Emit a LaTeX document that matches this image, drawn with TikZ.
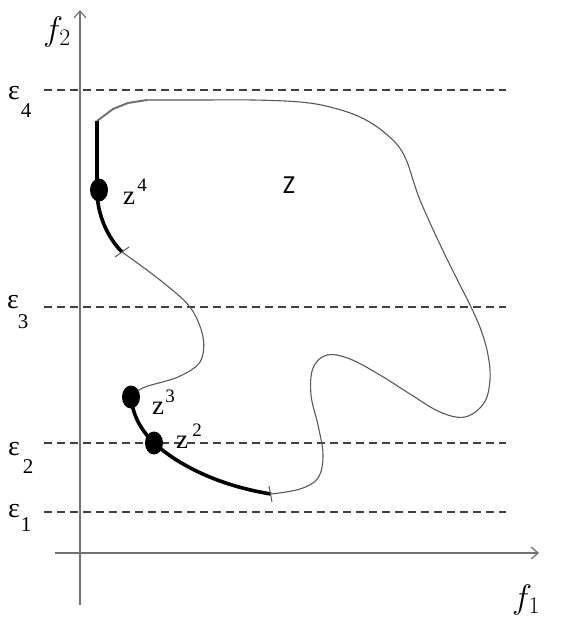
\RequirePackage{fix-cm}
\documentclass[tikz,border=0pt]{standalone}
\usepackage{fontspec}
\setmainfont{Liberation Serif}
\newfontfamily\zfont{Carlito}
\usetikzlibrary{arrows.meta,shapes.geometric}
\begin{document}
\begin{tikzpicture}[x=1pt,y=-1pt,
  axis/.style={draw=black!55,line width=1.5pt,-{Straight Barb[length=7pt,width=12pt,line width=1.2pt]}},
  level/.style={draw=black!75,line width=1.4pt,dash pattern=on 8pt off 5pt},
  thin/.style={draw=black!65,line width=1.1pt},
  thick/.style={draw=black,line width=3.6pt},
  dot/.style={fill=black,ellipse,inner sep=0pt,minimum width=18pt,minimum height=23pt},
  eps/.style={inner sep=0pt,font=\fontsize{28}{28}\selectfont},
  sub/.style={inner sep=0pt,font=\fontsize{21}{21}\selectfont},
  zlab/.style={inner sep=0pt,font=\fontsize{27}{27}\selectfont},
  zsup/.style={inner sep=0pt,font=\fontsize{19}{19}\selectfont},
  flab/.style={inner sep=0pt,font=\fontsize{34}{34}\selectfont},
  tick/.style={draw=black!65,line width=1pt}]
\useasboundingbox (0,0) rectangle (567,639);
% axes
\coordinate (yb) at (80,605);
\coordinate (yt) at (80,10);
\coordinate (xl) at (55,553);
\coordinate (xr) at (539,553);
\draw[axis] (yb) -- (yt);
\draw[axis] (xl) -- (xr);
\node[flab] (f2) at (57,32) {$f_2$};
\node[flab] (f1) at (526,600) {$f_1$};
% levels
\foreach \yy/\nm in {90/e4,307/e3,443/e2,512/e1}{
  \coordinate (\nm l) at (44,\yy);
  \coordinate (\nm r) at (506,\yy);
  \draw[level] (\nm l) -- (\nm r);
}
\node[eps] (le4) at (14,93) {ε};   \node[sub] (s4) at (26,111) {4};
\node[eps] (le3) at (13,302) {ε};  \node[sub] (s3) at (23,322) {3};
\node[eps] (le2) at (14,449) {ε};  \node[sub] (s2) at (28,467) {2};
\node[eps] (le1) at (14,511) {ε};  \node[sub] (s1) at (26,525) {1};
% thin boundary parts
\draw[thin] plot[smooth,tension=0.55] coordinates {(122,252) (160,280) (190,307) (203,337) (200,362) (178,377) (145,387) (132,395)};
\draw[thin] plot[smooth,tension=0.6] coordinates {(271,494) (300,489) (318,478) (323,455) (318,425) (311,395) (313,368) (327,355) (350,359) (380,375) (410,394) (440,412) (465,417) (484,403) (490,380) (488,355) (481,330) (470,305) (445,255) (420,200) (404,155) (385,133) (360,117) (330,107) (300,102) (253,100) (200,100) (147,100)};
\draw[draw=black!55,line width=2pt] (147,100) -- (128,103) -- (113,109) -- (97,121);
% thick parts
\draw[thick] (97,121) -- (97,190) .. controls (97,215) and (108,238) .. (122,252);
\draw[thick] (131,397) .. controls (133,418) and (143,432) .. (154,443) .. controls (176,463) and (215,485) .. (271,494);
% ticks
\coordinate (t1a) at (115,257); \coordinate (t1b) at (129,247);
\draw[tick] (t1a) -- (t1b);
\coordinate (t2a) at (269,486); \coordinate (t2b) at (272,502);
\draw[tick] (t2a) -- (t2b);
% points
\node[dot] (z4) at (99,190) {};
\node[dot] (z3) at (131,397) {};
\node[dot] (z2) at (154,443) {};
\node[zlab] (lz4) at (129,198) {z};  \node[zsup] (sz4) at (142,185) {4};
\node[zlab] (lz3) at (158,408) {z};  \node[zsup] (sz3) at (170,396) {3};
\node[zlab] (lz2) at (182,442) {z};  \node[zsup] (sz2) at (197,430) {2};
\node[inner sep=0pt,font=\zfont\fontsize{26}{26}\selectfont] (Z) at (289,185) {Z};
\end{tikzpicture}
\end{document}
